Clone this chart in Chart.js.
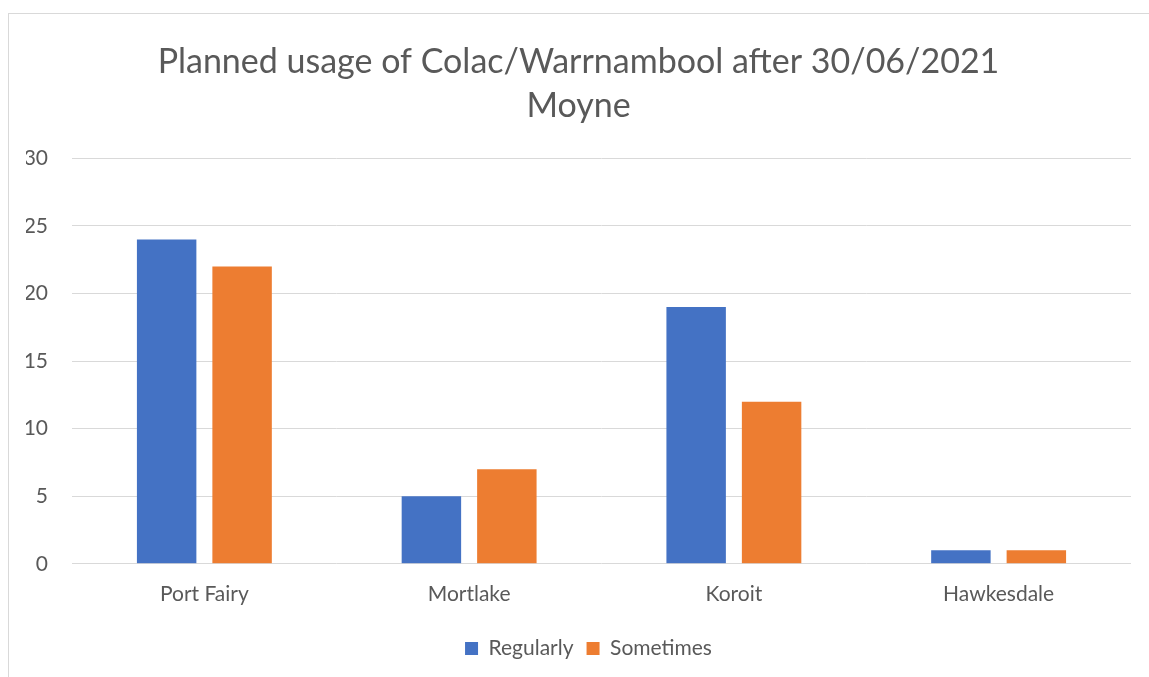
<!DOCTYPE html>
<html>
<head>
<meta charset="utf-8">
<script src="https://cdn.jsdelivr.net/npm/chart.js@4/dist/chart.umd.min.js"></script>
<style>
  html, body { margin: 0; padding: 0; background: #fff; overflow: hidden; width: 1149px; height: 677px; }
  #frame { position: absolute; left: 8px; top: 13px; width: 1200px; height: 700px; border: 1px solid #d9d9d9; box-sizing: border-box; }
  #wrap { position: absolute; left: 0; top: 0; width: 1149px; height: 677px; }
</style>
</head>
<body>
<div id="frame"></div>
<div id="wrap"><canvas id="c" width="1149" height="677"></canvas></div>
<script>
const titleLines = ["Planned usage of Colac/Warrnambool after 30/06/2021", "Moyne"];
const categories = ["Port Fairy", "Mortlake", "Koroit", "Hawkesdale"];
const regularly = [24, 5, 19, 1];
const sometimes = [22, 7, 12, 1];
const seriesNames = ["Regularly", "Sometimes"];
const yMin = 0, yMax = 30, yStep = 5;

const FONT = "Lato, 'Open Sans', sans-serif";
const TEXT = "#595959";

const legendShift = {
  id: 'legendShift',
  afterLayout(chart) {
    const l = chart.legend;
    if (l) { l.left += 10; l.right += 10; }
  }
};

new Chart(document.getElementById('c'), {
  type: 'bar',
  data: {
    labels: categories,
    datasets: [
      { label: seriesNames[0], data: regularly, backgroundColor: '#4472C4', barPercentage: 0.788, categoryPercentage: 0.57 },
      { label: seriesNames[1], data: sometimes, backgroundColor: '#ED7D31', barPercentage: 0.788, categoryPercentage: 0.57 }
    ]
  },
  options: {
    responsive: false,
    animation: false,
    devicePixelRatio: 1,
    layout: { padding: { left: 26, right: 18, top: 40, bottom: 8 } },
    plugins: {
      title: {
        display: true,
        text: titleLines,
        color: TEXT,
        font: { family: FONT, size: 34, weight: 'normal', lineHeight: 1.3 },
        padding: { top: 0, bottom: 30 }
      },
      legend: {
        position: 'bottom',
        labels: {
          color: TEXT,
          font: { family: FONT, size: 21 },
          boxWidth: 13, boxHeight: 13,
          padding: 13
        }
      },
      tooltip: { enabled: false }
    },
    scales: {
      x: {
        grid: { display: false, drawTicks: false },
        border: { display: false },
        ticks: { color: TEXT, font: { family: FONT, size: 21 }, padding: 18 }
      },
      y: {
        min: yMin, max: yMax,
        afterFit(scale) { scale.width = 46; },
        grid: { color: '#D9D9D9', lineWidth: 1, drawTicks: false },
        border: { display: false },
        ticks: { stepSize: yStep, color: TEXT, font: { family: FONT, size: 21 }, padding: 24 }
      }
    }
  },
  plugins: [legendShift]
});
</script>
</body>
</html>
